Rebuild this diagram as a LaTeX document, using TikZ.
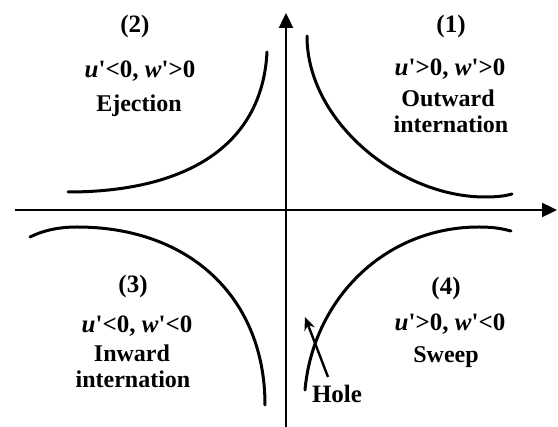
\documentclass[tikz,border=0pt]{standalone}
\usepackage{fontspec}
\setmainfont{Liberation Serif}
\usetikzlibrary{arrows.meta}
\newcommand{\pq}{\textquotesingle}
\tikzset{
  axisline/.style={line width=2.4pt, -{Triangle[length=15pt,width=14pt]}},
  curveline/.style={line width=3pt, line cap=round},
  holearrow/.style={line width=2.4pt, -{Stealth[length=13pt,width=11pt]}},
  lbl/.style={anchor=base, inner sep=0pt, font=\fontsize{25}{28}\selectfont\bfseries},
  desc/.style={anchor=base, inner sep=0pt, font=\fontsize{24}{28}\selectfont\bfseries},
}
\begin{document}
\begin{tikzpicture}[x=1pt,y=-1pt]
\path[use as bounding box] (0,0) rectangle (558,427);
% axes
\coordinate (xl) at (15,210);
\coordinate (xr) at (557,210);
\coordinate (yb) at (286,427);
\coordinate (yt) at (286,13);
\draw[axisline] (xl) -- (xr);
\draw[axisline] (yb) -- (yt);
% curves
\coordinate (c1a) at (307,36);
\coordinate (c1b) at (485,197);
\coordinate (c1c) at (512,194);
\draw[curveline] (c1a) .. controls (307,122) and (400,197) .. (c1b) .. controls (497,197) and (505,196) .. (c1c);
\coordinate (c2a) at (267,52);
\coordinate (c2b) at (68,192);
\draw[curveline] (c2a) .. controls (262,150) and (180,192) .. (c2b);
\coordinate (c3a) at (265,405);
\coordinate (c3b) at (77,227);
\coordinate (c3c) at (30,237);
\draw[curveline] (c3a) .. controls (265,298) and (190,227) .. (c3b) .. controls (55,227) and (40,232) .. (c3c);
\coordinate (c4a) at (305,390);
\coordinate (c4b) at (479,227);
\coordinate (c4c) at (511,231);
\draw[curveline] (c4a) .. controls (313,300) and (384,227) .. (c4b) .. controls (495,227) and (503,229) .. (c4c);
% hole arrow
\coordinate (ha) at (328,377);
\coordinate (hb) at (305,317);
\draw[holearrow] (ha) -- (hb);
% labels quadrant 1
\node[lbl] (n1) at (451,33) {(1)};
\node[lbl] (s1) at (450,76) {\textit{u}\pq>0, \textit{w}\pq>0};
\node[desc] (d1a) at (448,107) {Outward};
\node[desc] (d1b) at (451,133) {internation};
% quadrant 2
\node[lbl] (n2) at (135,33) {(2)};
\node[lbl] (s2) at (140,78) {\textit{u}\pq<0, \textit{w}\pq>0};
\node[desc] (d2) at (139,112) {Ejection};
% quadrant 3
\node[lbl] (n3) at (133,293) {(3)};
\node[lbl] (s3) at (137,333) {\textit{u}\pq<0, \textit{w}\pq<0};
\node[desc] (d3a) at (132,362) {Inward};
\node[desc] (d3b) at (133,388) {internation};
% quadrant 4
\node[lbl] (n4) at (446,295) {(4)};
\node[lbl] (s4) at (450,331) {\textit{u}\pq>0, \textit{w}\pq<0};
\node[desc] (d4) at (446,363) {Sweep};
\node[lbl] (hole) at (337,403) {Hole};
\end{tikzpicture}
\end{document}
